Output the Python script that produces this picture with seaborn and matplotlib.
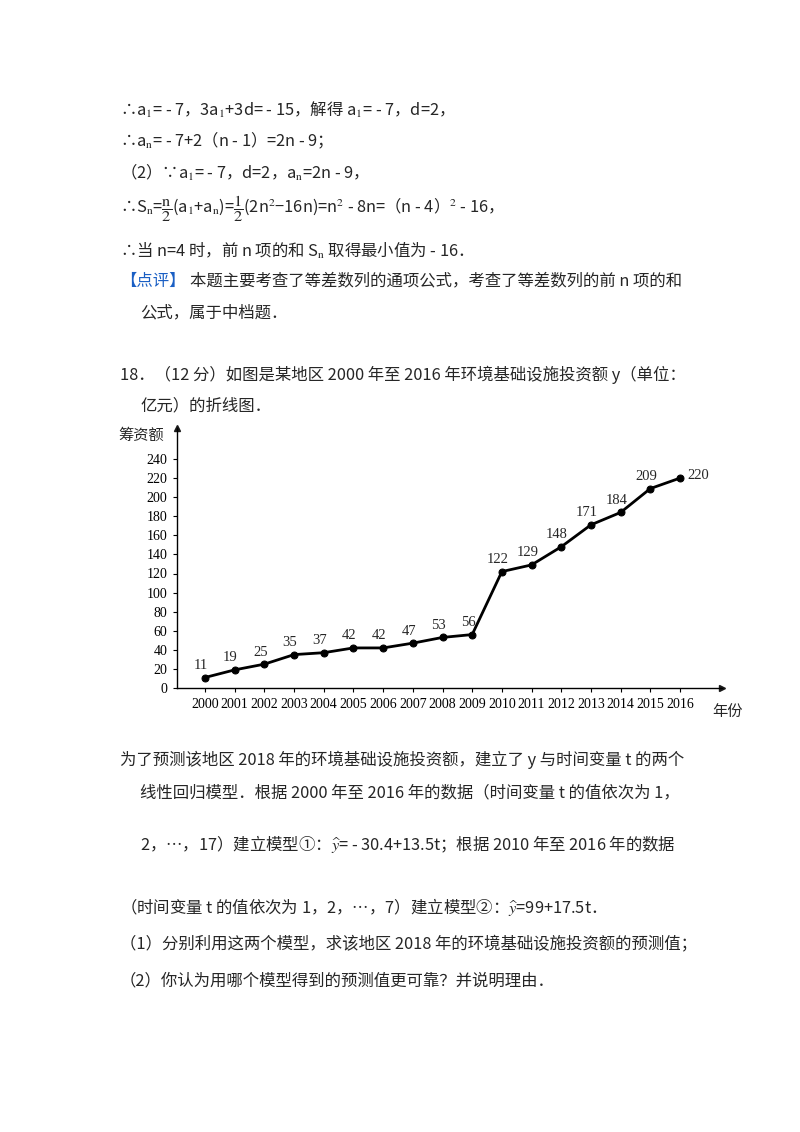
import matplotlib
matplotlib.use("Agg")
import matplotlib.pyplot as plt
import seaborn as sns
import pandas as pd

# data
years = list(range(2000, 2017))
amounts = [11, 19, 25, 35, 37, 42, 42, 47, 53, 56, 122, 129, 148, 171, 184, 209, 220]
y_ticks = list(range(0, 241, 20))

sns.set_theme(style="white")
plt.rcParams['font.family'] = ['Noto Sans CJK SC', 'DejaVu Sans']
plt.rcParams['mathtext.fontset'] = 'stix'

W, H = 800, 1132
fig = plt.figure(figsize=(W / 100, H / 100), dpi=100)
fig.patch.set_facecolor('white')

def line(x, y, s, **kw):
    kw.setdefault('fontsize', 11.8)
    fig.text(x / W, 1 - y / H, s, va='center', ha='left', **kw)

line(120, 110, r"∴a$_1$= - 7，3a$_1$+3d= - 15，解得 a$_1$= - 7，d=2，")
line(120, 140, r"∴a$_\mathrm{n}$= - 7+2（n - 1）=2n - 9；")
line(120, 172, r"（2）∵a$_1$= - 7，d=2，a$_\mathrm{n}$=2n - 9，")
line(120, 209, r"∴S$_\mathrm{n}$=$\dfrac{\mathrm{n}}{2}$(a$_1$+a$_\mathrm{n}$)=$\dfrac{1}{2}$(2n$^2$−16n)=n$^2$ - 8n=（n - 4）$^2$ - 16，")
line(120, 250, r"∴当 n=4 时，前 n 项的和 S$_\mathrm{n}$ 取得最小值为 - 16．")
fig.text(120 / W, 1 - 281 / H, "【点评】", va='center', ha='left', fontsize=11.8, color='#1a5fc4')
line(190, 281, "本题主要考查了等差数列的通项公式，考查了等差数列的前 n 项的和")
line(140, 313, "公式，属于中档题．")
line(120, 375, "18．（12 分）如图是某地区 2000 年至 2016 年环境基础设施投资额 y（单位：")
line(140, 406, "亿元）的折线图．")

line(120, 760, "为了预测该地区 2018 年的环境基础设施投资额，建立了 y 与时间变量 t 的两个")
line(140, 793, "线性回归模型．根据 2000 年至 2016 年的数据（时间变量 t 的值依次为 1，")
line(140, 844, r"2，…，17）建立模型①：$\widehat{y}$= - 30.4+13.5t；根据 2010 年至 2016 年的数据")
line(120, 907, r"（时间变量 t 的值依次为 1，2，…，7）建立模型②：$\widehat{y}$=99+17.5t．")
line(120, 944, "（1）分别利用这两个模型，求该地区 2018 年的环境基础设施投资额的预测值；")
line(120, 981, "（2）你认为用哪个模型得到的预测值更可靠？并说明理由．")

# chart
x0, y0, x1, y1 = 177, 688, 722, 428
ax = fig.add_axes([x0 / W, 1 - y0 / H, (x1 - x0) / W, (y0 - y1) / H])
ax.set_facecolor('white')
pxy = (680 - 205) / 16
ax.set_xlim(2000 - 28 / pxy, 2016 + 42 / pxy)
pyu = (688 - 459) / 240
ax.set_ylim(0, 240 + 31 / pyu)

df = pd.DataFrame({'year': years, 'amount': amounts})
sns.lineplot(data=df, x='year', y='amount', ax=ax, color='black', lw=2,
             marker='o', markersize=5, markeredgecolor='black')

serif = ['Liberation Serif', 'DejaVu Serif']
for xv, yv in zip(years, amounts):
    if xv == 2016:
        ax.annotate(str(yv), (xv, yv), xytext=(5, 2), textcoords='offset points',
                    ha='left', va='center', fontsize=10.5, family=serif)
    else:
        ax.annotate(str(yv), (xv, yv), xytext=(-3, 4), textcoords='offset points',
                    ha='center', va='bottom', fontsize=10.5, family=serif)

ax.set_xticks(years)
ax.set_xticklabels([str(y) for y in years], family=serif, fontsize=10)
ax.set_yticks(y_ticks)
ax.set_yticklabels([str(v) for v in y_ticks], family=serif, fontsize=10)
ax.tick_params(axis='both', length=3, width=0.8, direction='out', pad=4, colors='black')
ax.xaxis.set_ticks_position('bottom')
ax.yaxis.set_ticks_position('left')
ax.set_xlabel('')
ax.set_ylabel('')
for s in ['top', 'right']:
    ax.spines[s].set_visible(False)
for s in ['left', 'bottom']:
    ax.spines[s].set_color('black')
    ax.spines[s].set_linewidth(1)
ax.plot(1, 0, '>k', ms=5, transform=ax.transAxes, clip_on=False)
ax.plot(0, 1, '^k', ms=5, transform=ax.transAxes, clip_on=False)

fig.text(118 / W, 1 - 435 / H, "筹资额", fontsize=11, va='center', ha='left')
fig.text(712 / W, 1 - 711 / H, "年份", fontsize=11, va='center', ha='left')

fig.savefig('out.png', dpi=100, facecolor='white')
